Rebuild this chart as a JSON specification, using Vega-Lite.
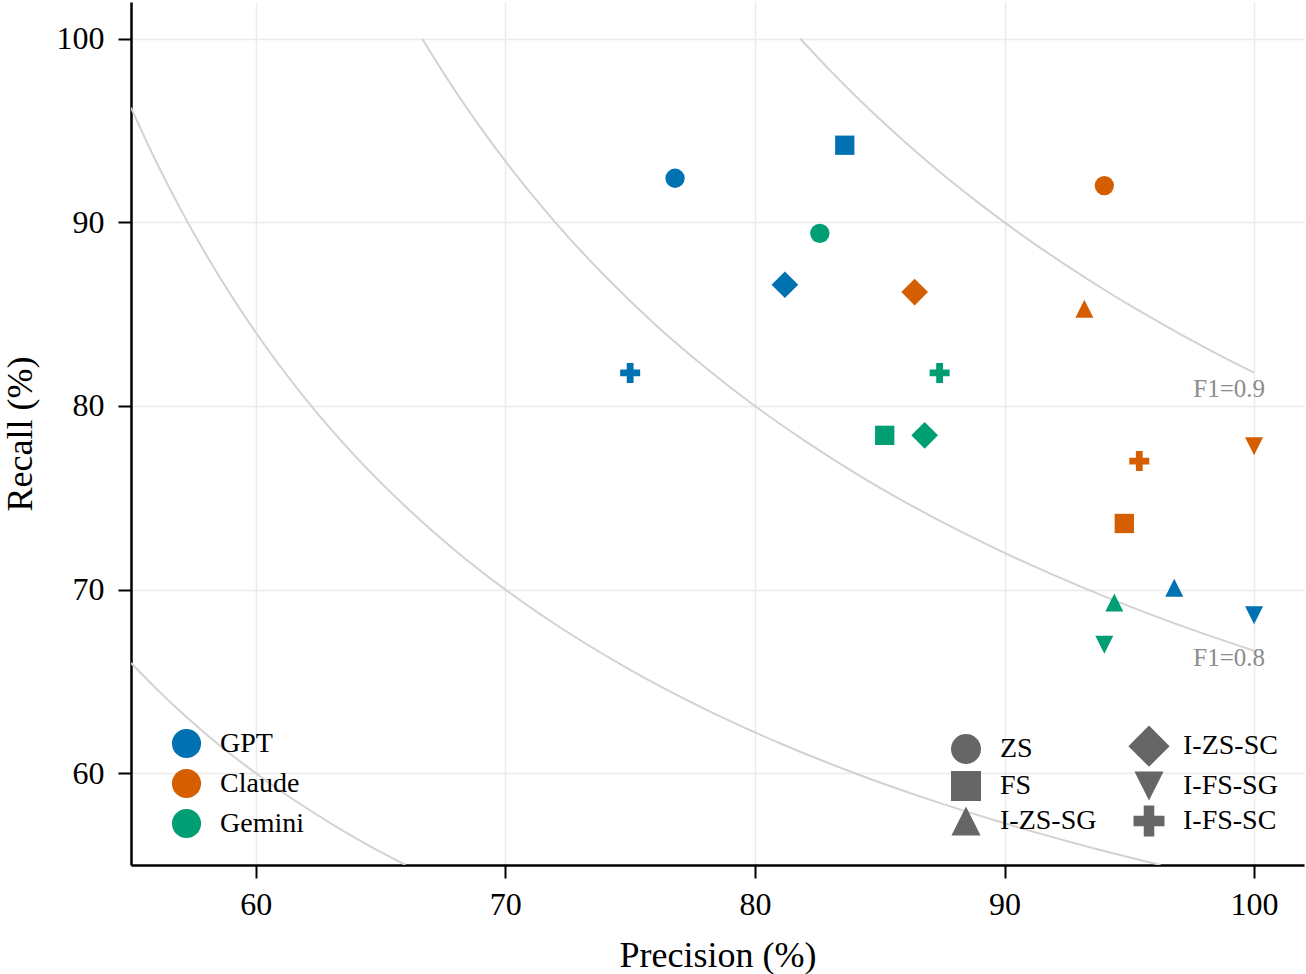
{
  "$schema": "https://vega.github.io/schema/vega-lite/v6.json",
  "width": 1173,
  "height": 863,
  "autosize": {"type": "none"},
  "padding": {"left": 131, "top": 2, "right": 2, "bottom": 109},
  "background": "white",
  "config": {
    "font": "Liberation Serif",
    "view": {"stroke": null},
    "axis": {
      "domainColor": "black",
      "domainWidth": 2.5,
      "tickColor": "black",
      "tickWidth": 2,
      "tickSize": 13,
      "labelFont": "Liberation Serif",
      "labelFontSize": 32,
      "labelColor": "black",
      "titleFont": "Liberation Serif",
      "titleFontSize": 36,
      "titleFontWeight": "normal",
      "titleColor": "black",
      "gridColor": "#ebebeb",
      "gridWidth": 1.5
    },
    "legend": {
      "labelFont": "Liberation Serif",
      "labelFontSize": 28,
      "labelColor": "black",
      "padding": 0
    }
  },
  "datasets": {
    "curves": [
      {"f1": "0.6", "precision": 55, "recall": 66.0},
      {"f1": "0.6", "precision": 56, "recall": 64.62},
      {"f1": "0.6", "precision": 57, "recall": 63.33},
      {"f1": "0.6", "precision": 58, "recall": 62.14},
      {"f1": "0.6", "precision": 59, "recall": 61.03},
      {"f1": "0.6", "precision": 60, "recall": 60.0},
      {"f1": "0.6", "precision": 61, "recall": 59.03},
      {"f1": "0.6", "precision": 62, "recall": 58.13},
      {"f1": "0.6", "precision": 63, "recall": 57.27},
      {"f1": "0.6", "precision": 64, "recall": 56.47},
      {"f1": "0.6", "precision": 65, "recall": 55.71},
      {"f1": "0.6", "precision": 66, "recall": 55.0},
      {"f1": "0.7", "precision": 55, "recall": 96.25},
      {"f1": "0.7", "precision": 56, "recall": 93.33},
      {"f1": "0.7", "precision": 57, "recall": 90.68},
      {"f1": "0.7", "precision": 58, "recall": 88.26},
      {"f1": "0.7", "precision": 60, "recall": 84.0},
      {"f1": "0.7", "precision": 62, "recall": 80.37},
      {"f1": "0.7", "precision": 64, "recall": 77.24},
      {"f1": "0.7", "precision": 66, "recall": 74.52},
      {"f1": "0.7", "precision": 68, "recall": 72.12},
      {"f1": "0.7", "precision": 70, "recall": 70.0},
      {"f1": "0.7", "precision": 72, "recall": 68.11},
      {"f1": "0.7", "precision": 75, "recall": 65.63},
      {"f1": "0.7", "precision": 78, "recall": 63.49},
      {"f1": "0.7", "precision": 81, "recall": 61.63},
      {"f1": "0.7", "precision": 84, "recall": 60.0},
      {"f1": "0.7", "precision": 87, "recall": 58.56},
      {"f1": "0.7", "precision": 90, "recall": 57.27},
      {"f1": "0.7", "precision": 93, "recall": 56.12},
      {"f1": "0.7", "precision": 96.25, "recall": 55.0},
      {"f1": "0.8", "precision": 66.67, "recall": 100.0},
      {"f1": "0.8", "precision": 67, "recall": 99.26},
      {"f1": "0.8", "precision": 68, "recall": 97.14},
      {"f1": "0.8", "precision": 69, "recall": 95.17},
      {"f1": "0.8", "precision": 70, "recall": 93.33},
      {"f1": "0.8", "precision": 72, "recall": 90.0},
      {"f1": "0.8", "precision": 74, "recall": 87.06},
      {"f1": "0.8", "precision": 76, "recall": 84.44},
      {"f1": "0.8", "precision": 78, "recall": 82.11},
      {"f1": "0.8", "precision": 80, "recall": 80.0},
      {"f1": "0.8", "precision": 82, "recall": 78.1},
      {"f1": "0.8", "precision": 84, "recall": 76.36},
      {"f1": "0.8", "precision": 86, "recall": 74.78},
      {"f1": "0.8", "precision": 88, "recall": 73.33},
      {"f1": "0.8", "precision": 90, "recall": 72.0},
      {"f1": "0.8", "precision": 92, "recall": 70.77},
      {"f1": "0.8", "precision": 94, "recall": 69.63},
      {"f1": "0.8", "precision": 96, "recall": 68.57},
      {"f1": "0.8", "precision": 98, "recall": 67.59},
      {"f1": "0.8", "precision": 100, "recall": 66.67},
      {"f1": "0.9", "precision": 81.82, "recall": 100.0},
      {"f1": "0.9", "precision": 83, "recall": 98.29},
      {"f1": "0.9", "precision": 84, "recall": 96.92},
      {"f1": "0.9", "precision": 85, "recall": 95.63},
      {"f1": "0.9", "precision": 86, "recall": 94.39},
      {"f1": "0.9", "precision": 87, "recall": 93.21},
      {"f1": "0.9", "precision": 88, "recall": 92.09},
      {"f1": "0.9", "precision": 89, "recall": 91.02},
      {"f1": "0.9", "precision": 90, "recall": 90.0},
      {"f1": "0.9", "precision": 91, "recall": 89.02},
      {"f1": "0.9", "precision": 92, "recall": 88.09},
      {"f1": "0.9", "precision": 93, "recall": 87.19},
      {"f1": "0.9", "precision": 94, "recall": 86.33},
      {"f1": "0.9", "precision": 95, "recall": 85.5},
      {"f1": "0.9", "precision": 96, "recall": 84.71},
      {"f1": "0.9", "precision": 97, "recall": 83.94},
      {"f1": "0.9", "precision": 98, "recall": 83.21},
      {"f1": "0.9", "precision": 99, "recall": 82.5},
      {"f1": "0.9", "precision": 100, "recall": 81.82}
    ],
    "curveLabels": [
      {"label": "F1=0.9", "precision": 99.0, "recall": 80.9},
      {"label": "F1=0.8", "precision": 99.0, "recall": 66.3}
    ],
    "points": [
      {"model": "GPT", "method": "ZS", "precision": 76.8, "recall": 92.4},
      {"model": "GPT", "method": "FS", "precision": 83.6, "recall": 94.2},
      {"model": "GPT", "method": "I-ZS-SG", "precision": 96.8, "recall": 70.1},
      {"model": "GPT", "method": "I-ZS-SC", "precision": 81.2, "recall": 86.6},
      {"model": "GPT", "method": "I-FS-SG", "precision": 100.0, "recall": 68.6},
      {"model": "GPT", "method": "I-FS-SC", "precision": 75.0, "recall": 81.8},
      {"model": "Claude", "method": "ZS", "precision": 94.0, "recall": 92.0},
      {"model": "Claude", "method": "FS", "precision": 94.8, "recall": 73.6},
      {"model": "Claude", "method": "I-ZS-SG", "precision": 93.2, "recall": 85.3},
      {"model": "Claude", "method": "I-ZS-SC", "precision": 86.4, "recall": 86.2},
      {"model": "Claude", "method": "I-FS-SG", "precision": 100.0, "recall": 77.8},
      {"model": "Claude", "method": "I-FS-SC", "precision": 95.4, "recall": 77.0},
      {"model": "Gemini", "method": "ZS", "precision": 82.6, "recall": 89.4},
      {"model": "Gemini", "method": "FS", "precision": 85.2, "recall": 78.4},
      {"model": "Gemini", "method": "I-ZS-SG", "precision": 94.4, "recall": 69.3},
      {"model": "Gemini", "method": "I-ZS-SC", "precision": 86.8, "recall": 78.4},
      {"model": "Gemini", "method": "I-FS-SG", "precision": 94.0, "recall": 67.0},
      {"model": "Gemini", "method": "I-FS-SC", "precision": 87.4, "recall": 81.8}
    ]
  },
  "encoding": {
    "x": {
      "field": "precision",
      "type": "quantitative",
      "scale": {"domain": [55, 102], "nice": false, "zero": false},
      "axis": {"title": "Precision (%)", "values": [60, 70, 80, 90, 100], "labelPadding": 11, "titlePadding": 18}
    },
    "y": {
      "field": "recall",
      "type": "quantitative",
      "scale": {"domain": [55, 102], "nice": false, "zero": false},
      "axis": {"title": "Recall (%)", "values": [60, 70, 80, 90, 100], "labelPadding": 14, "titlePadding": 17}
    }
  },
  "layer": [
    {
      "data": {"name": "curves"},
      "mark": {"type": "line", "color": "#d2d2d2", "strokeWidth": 2, "interpolate": "monotone", "clip": true},
      "encoding": {"detail": {"field": "f1", "type": "nominal"}}
    },
    {
      "data": {"name": "curveLabels"},
      "mark": {"type": "text", "color": "#8c8c8c", "fontSize": 25, "align": "center", "baseline": "middle"},
      "encoding": {"text": {"field": "label", "type": "nominal"}}
    },
    {
      "data": {"name": "points"},
      "encoding": {
        "color": {
          "field": "model",
          "type": "nominal",
          "scale": {"domain": ["GPT", "Claude", "Gemini"], "range": ["#0072B2", "#D55E00", "#009E73"]},
          "legend": {
            "title": null,
            "orient": "none",
            "legendX": 40,
            "legendY": 726,
            "symbolType": "circle",
            "symbolSize": 850,
            "symbolOpacity": 1,
            "labelOffset": 18,
            "rowPadding": 9
          }
        },
        "shape": {
          "field": "method",
          "type": "nominal",
          "scale": {
            "domain": ["ZS", "FS", "I-ZS-SG", "I-ZS-SC", "I-FS-SG", "I-FS-SC"],
            "range": [
              "circle",
              "square",
              "M0,-1L-1,1L1,1Z",
              "diamond",
              "M-1,-1L1,-1L0,1Z",
              "M-1,-0.34L-0.34,-0.34L-0.34,-1L0.34,-1L0.34,-0.34L1,-0.34L1,0.34L0.34,0.34L0.34,1L-0.34,1L-0.34,0.34L-1,0.34Z"
            ]
          },
          "legend": {
            "title": null,
            "orient": "none",
            "legendX": 820,
            "legendY": 729,
            "columns": 2,
            "columnPadding": 31,
            "rowPadding": 4,
            "symbolSize": 1000,
            "labelOffset": 19,
            "symbolFillColor": "#666666",
            "symbolStrokeColor": "#666666",
            "symbolOpacity": 1,
            "encode": {
              "symbols": {
                "update": {
                  "fill": {"value": "#666666"},
                  "stroke": {"value": "#666666"},
                  "strokeWidth": {"value": 0},
                  "size": {"signal": "datum.value === 'I-ZS-SC' ? 1700 : (datum.value === 'I-ZS-SG' || datum.value === 'I-FS-SG') ? 850 : datum.value === 'I-FS-SC' ? 960 : 900"}
                }
              }
            }
          }
        }
      },
      "layer": [
        {
          "transform": [{"filter": "datum.method === 'ZS' || datum.method === 'FS'"}],
          "mark": {"type": "point", "filled": true, "opacity": 1, "size": 373}
        },
        {
          "transform": [{"filter": "datum.method === 'I-ZS-SC'"}],
          "mark": {"type": "point", "filled": true, "opacity": 1, "size": 713}
        },
        {
          "transform": [{"filter": "datum.method === 'I-ZS-SG' || datum.method === 'I-FS-SG'"}],
          "mark": {"type": "point", "filled": true, "opacity": 1, "size": 324}
        },
        {
          "transform": [{"filter": "datum.method === 'I-FS-SC'"}],
          "mark": {"type": "point", "filled": true, "opacity": 1, "size": 400}
        }
      ]
    }
  ]
}
